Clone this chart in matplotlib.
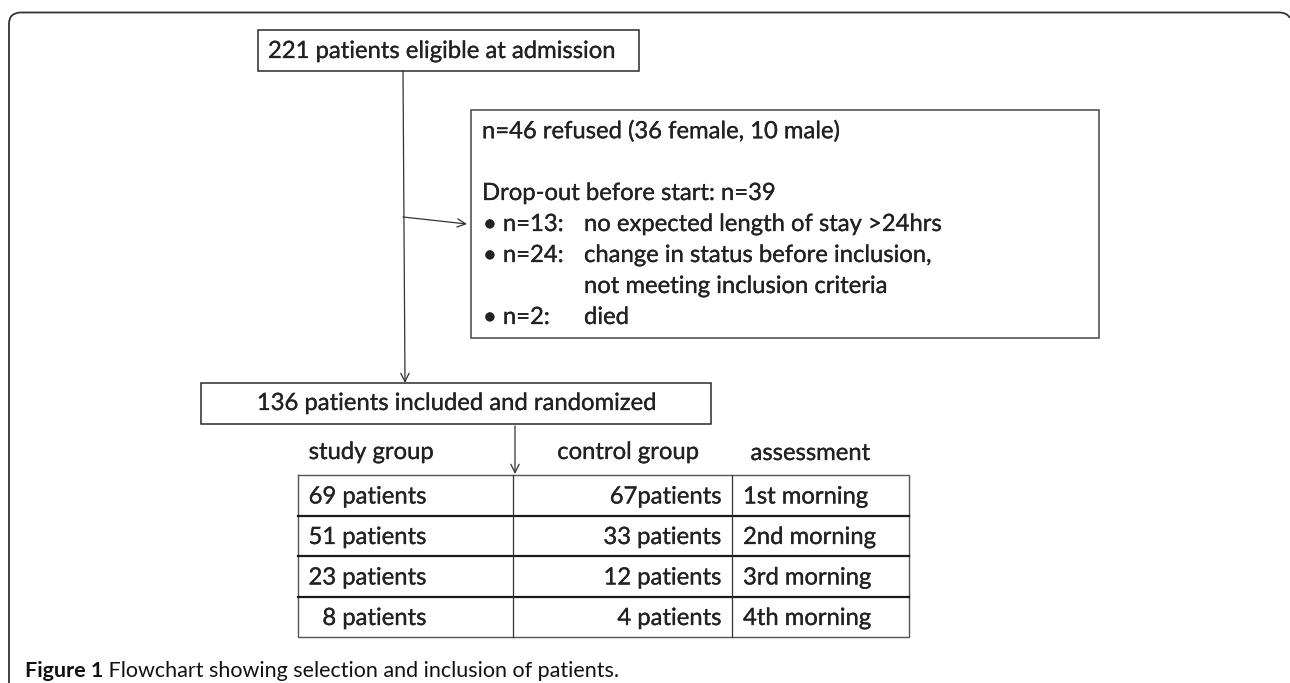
import matplotlib
matplotlib.use("Agg")
import matplotlib.pyplot as plt
import matplotlib.patheffects as pe
from matplotlib.path import Path
from matplotlib.patches import PathPatch, Rectangle

# ---------------- data ----------------
top_box_text = "221 patients eligible at admission"
refused_text = "n=46 refused (36 female, 10 male)"
dropout_title = "Drop-out before start: n=39"
dropout_counts = ["\u2022 n=13:", "\u2022 n=24:", "", "\u2022 n=2:"]
dropout_reasons = ["no expected length of stay >24hrs",
                   "change in status before inclusion,",
                   "not meeting inclusion criteria",
                   "died"]
included_text = "136 patients included and randomized"
table_headers = ["study group", "control group", "assessment"]
study_group = ["69 patients", "51 patients", "23 patients", "8 patients"]
control_group = ["67patients", "33 patients", "12 patients", "4 patients"]
assessment = ["1st morning", "2nd morning", "3rd morning", "4th morning"]
caption_bold = "Figure 1"
caption_rest = " Flowchart showing selection and inclusion of patients."

# ---------------- figure ----------------
W, H = 1290, 683
fig = plt.figure(figsize=(W / 100, H / 100), dpi=100)
ax = fig.add_axes([0, 0, 1, 1])
ax.set_xlim(0, W)
ax.set_ylim(H, 0)
ax.axis("off")
renderer = fig.canvas.get_renderer()

FONT = ["Lato", "DejaVu Sans"]
CAPFONT = ["Liberation Sans Narrow", "Lato", "DejaVu Sans"]
TXT = "#222222"
EDGE = "#2a2a2a"
HEAVY = [pe.withStroke(linewidth=0.2, foreground=TXT)]


def fit_size(text, family, target_px, weight="normal"):
    t = ax.text(0, 0, text, fontsize=10, family=family, weight=weight)
    w = t.get_window_extent(renderer).width
    t.remove()
    return 10.0 * target_px / w


FS = fit_size(refused_text, FONT, 358)
CFS = fit_size(caption_bold + caption_rest, CAPFONT, 592)


def txt(x, y, s, ha="left", va="center", **kw):
    ax.text(x, y + 1.5, s, ha=ha, va=va, fontsize=kw.pop("fs", FS),
            family=kw.pop("family", FONT), color=kw.pop("color", TXT),
            path_effects=HEAVY, **kw)


def box(x0, y0, x1, y1, lw=1.1, ec=EDGE):
    ax.add_patch(Rectangle((x0, y0), x1 - x0, y1 - y0, fill=False,
                           edgecolor=ec, linewidth=lw))


def arrow(x0, y0, x1, y1):
    ax.annotate("", xy=(x1, y1), xytext=(x0, y0),
                arrowprops=dict(arrowstyle="->,head_length=0.6,head_width=0.3",
                                color="#333333", lw=0.9,
                                shrinkA=0, shrinkB=0))


# outer frame with rounded top-left corner
verts = [(9, H + 2), (9, 24), (9, 12.5), (21, 12.5), (1279, 12.5),
         (1287, 12.5), (1290, 18)]
codes = [Path.MOVETO, Path.LINETO, Path.CURVE3, Path.CURVE3, Path.LINETO,
         Path.CURVE3, Path.CURVE3]
ax.add_patch(PathPatch(Path(verts, codes), fill=False, edgecolor="#333333",
                       linewidth=1.3))

# top box
box(258, 30, 639, 71)
txt(268, 50, top_box_text)

# main vertical arrow
arrow(403, 71, 405, 383)
# side arrow into exclusion box
arrow(403, 217, 467, 224)

# exclusion box
box(471, 110, 1099, 338, ec="#444444")
txt(482, 130, refused_text)
txt(482, 192, dropout_title)
rows_y = [223, 254, 285, 316]
for yy, c, r in zip(rows_y, dropout_counts, dropout_reasons):
    if c:
        txt(483, yy, c)
    txt(584, yy, r)

# included box
box(201, 383, 711, 424)
txt(456, 402, included_text, ha="center")

# arrow to table
arrow(515, 426, 515, 474)

# headers
txt(371, 451, table_headers[0], ha="center")
txt(628, 451, table_headers[1], ha="center")
txt(810, 452, table_headers[2], ha="center")

# table
tx0, tx1 = 298, 909
cols = [513, 732]
row_lines = [475, 516, 556, 597, 637]
ax.plot([tx0, tx1, tx1, tx0, tx0],
        [row_lines[0], row_lines[0], row_lines[-1], row_lines[-1], row_lines[0]],
        color="#555555", lw=1.0, solid_joinstyle="miter")
for yl in row_lines[1:-1]:
    ax.plot([tx0, tx1], [yl, yl], color="#1a1a1a", lw=1.6)
for xc in cols:
    ax.plot([xc, xc], [row_lines[0], row_lines[-1]], color="#333333", lw=0.9)

for i in range(len(study_group)):
    yc = (row_lines[i] + row_lines[i + 1]) / 2
    txt(426, yc, study_group[i], ha="right")
    txt(721, yc, control_group[i], ha="right")
    txt(743, yc, assessment[i], ha="left")

# caption
t1 = ax.text(25, 671, caption_bold, ha="left", va="center", fontsize=CFS,
             family=CAPFONT, weight="bold", color="#111111")
bb = t1.get_window_extent(renderer)
x_end = ax.transData.inverted().transform((bb.x1, 0))[0]
ax.text(x_end, 671, caption_rest, ha="left", va="center", fontsize=CFS,
        family=CAPFONT, color="#111111")

fig.savefig("out.png", dpi=100, facecolor="white")
